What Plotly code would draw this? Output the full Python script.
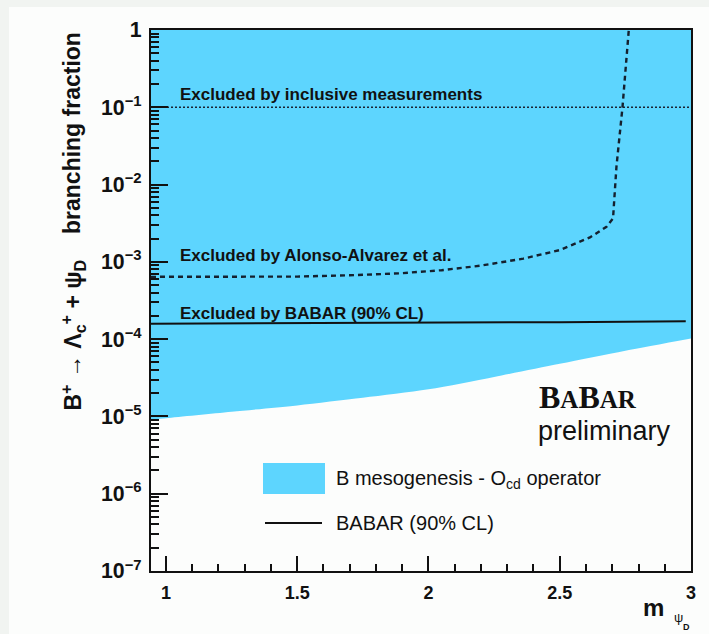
import plotly.graph_objects as go

# psi_D mass grid and the lower edge of the B-mesogenesis band (O_cd operator)
mass_band = [0.943, 1.0, 1.25, 1.5, 1.75, 2.0, 2.25, 2.5, 2.75, 3.0]
bf_band_low = [9.1e-6, 9.5e-6, 1.15e-5, 1.39e-5, 1.74e-5, 2.24e-5, 3.24e-5, 4.79e-5, 7.08e-5, 1.02e-4]
mass_band_top = [0.943, 3.0]
bf_band_top = [1.0, 1.0]

# BABAR 90% CL upper limit
mass_babar = [0.943, 1.25, 1.5, 1.75, 2.0, 2.25, 2.5, 2.75, 2.98]
bf_babar = [1.58e-4, 1.59e-4, 1.6e-4, 1.61e-4, 1.62e-4, 1.64e-4, 1.66e-4, 1.68e-4, 1.71e-4]

# Alonso-Alvarez et al. exclusion
mass_alonso = [0.943, 1.2, 1.5, 1.7, 1.89, 2.05, 2.196, 2.361, 2.5, 2.615, 2.678, 2.703, 2.716, 2.739, 2.763]
bf_alonso = [6.4e-4, 6.4e-4, 6.45e-4, 6.7e-4, 7.1e-4, 7.8e-4, 8.9e-4, 1.1e-3, 1.42e-3, 2.07e-3,
             2.84e-3, 3.65e-3, 1.7e-2, 0.1, 1.0]

# inclusive-measurement exclusion
mass_inclusive = [0.943, 3.0]
bf_inclusive = [0.1, 0.1]

X_RANGE = [0.943, 3.0]
BLUE = "#5dd5fe"
SANS = "Liberation Sans, Arial, Helvetica, sans-serif"
SERIF = "Liberation Serif, Times New Roman, serif"

fig = go.Figure()

# band: smooth lower edge, filled up to the top of the range
fig.add_trace(go.Scatter(
    x=mass_band, y=bf_band_low, mode="lines",
    line=dict(width=0, color=BLUE, shape="spline", smoothing=0.8),
    hoverinfo="skip", showlegend=False,
))
fig.add_trace(go.Scatter(
    x=mass_band_top, y=bf_band_top, mode="lines", fill="tonexty", fillcolor=BLUE,
    line=dict(width=0, color=BLUE), hoverinfo="skip", showlegend=False,
))
fig.add_trace(go.Scatter(
    x=mass_inclusive, y=bf_inclusive, mode="lines",
    line=dict(color="#1a2433", width=1.6, dash="2px,2px"), showlegend=False,
))
fig.add_trace(go.Scatter(
    x=mass_alonso, y=bf_alonso, mode="lines",
    line=dict(color="#15202e", width=2.4, dash="5px,4px"), showlegend=False,
))
fig.add_trace(go.Scatter(
    x=mass_babar, y=bf_babar, mode="lines",
    line=dict(color="#111111", width=2), showlegend=False,
))

W, H = 709, 634
ML, MR, MT, MB = 151, 18, 30, 63
PW, PH = W - ML - MR, H - MT - MB


def px(x):
    return (x - ML) / PW


def py(y):
    return (H - MB - y) / PH


annotations = []


def note(text, x, y, size, xanchor="left", yanchor="middle", bold=False, family=SANS, angle=0, color="#111111"):
    annotations.append(dict(
        text=text, x=px(x), y=py(y), xref="paper", yref="paper",
        xanchor=xanchor, yanchor=yanchor, showarrow=False, textangle=angle,
        font=dict(family=family, size=size, color=color, weight="bold" if bold else "normal"),
    ))


note("Excluded by inclusive measurements", 178, 95, 17, bold=True)
note("Excluded by Alonso-Alvarez et al.", 178, 256, 17, bold=True)
note("Excluded by BABAR (90% CL)", 178, 313, 17, bold=True)

# BaBar logo text in small caps
note("B<span style='font-size:25px'>A</span>B<span style='font-size:25px'>AR</span>",
     537, 397, 32, bold=True, family=SERIF)
note("preliminary", 536, 431, 27)

# legend entries
note("B mesogenesis - O<sub>cd</sub> operator", 334, 479, 20)
note("BABAR (90% CL)", 334, 523, 20)

# axis titles
note("branching fraction", 72, 30, 23, xanchor="center", yanchor="top", bold=True, angle=-90)
note("B<sup>+</sup> → Λ<sub>c</sub><sup>+</sup> + ψ<sub>D</sub>", 72, 413, 23,
     xanchor="center", yanchor="bottom", bold=True, angle=-90)
note("m", 653, 607, 24, xanchor="center", bold=True)
note("ψ", 678, 617, 13, xanchor="center")
note("D", 686, 627, 9, xanchor="center", bold=True)

shapes = [
    # page frame
    dict(type="rect", xref="paper", yref="paper", x0=px(9), x1=px(712), y0=py(637), y1=py(7),
         fillcolor="#fcfdfc", line=dict(width=0), layer="below"),
    # legend swatches
    dict(type="rect", xref="paper", yref="paper", x0=px(263), x1=px(325), y0=py(494), y1=py(463),
         fillcolor=BLUE, line=dict(width=0)),
    dict(type="line", xref="paper", yref="paper", x0=px(265), x1=px(322), y0=py(523), y1=py(523),
         line=dict(color="#111111", width=2)),
]

fig.update_layout(
    width=W, height=H,
    margin=dict(l=ML, r=MR, t=MT, b=MB),
    paper_bgcolor="#f1f4f1",
    plot_bgcolor="#fcfdfc",
    showlegend=False,
    annotations=annotations,
    shapes=shapes,
    font=dict(family=SANS, color="#111111"),
)

fig.update_xaxes(
    range=X_RANGE, tick0=1, dtick=0.5,
    ticks="inside", ticklen=15, tickwidth=2, tickcolor="#111111",
    minor=dict(ticks="inside", ticklen=7, tickwidth=1.6, tickcolor="#111111", dtick=0.1, showgrid=False),
    showline=True, linecolor="#111111", linewidth=2, mirror=True,
    showgrid=False, zeroline=False,
    tickfont=dict(size=18, weight="bold", color="#111111"),
    ticklabelstandoff=4,
)
fig.update_yaxes(
    type="log", range=[-7, 0], dtick=1, exponentformat="power", showexponent="all",
    ticks="inside", ticklen=17, tickwidth=2, tickcolor="#111111",
    minor=dict(ticks="inside", ticklen=8, tickwidth=1.6, tickcolor="#111111", dtick="D1", showgrid=False),
    showline=True, linecolor="#111111", linewidth=2, mirror=True,
    showgrid=False, zeroline=False,
    tickfont=dict(size=17, weight="bold", color="#111111"),
    ticklabelstandoff=4,
)

fig.write_html("out.html")
